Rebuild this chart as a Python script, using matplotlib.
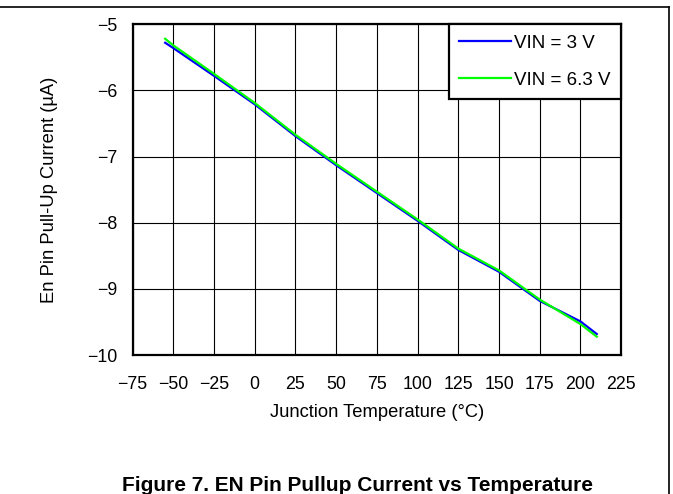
import matplotlib
matplotlib.use('Agg')
import matplotlib.pyplot as plt
from matplotlib.lines import Line2D

plt.rcParams['font.family'] = ['Liberation Sans', 'DejaVu Sans']

# Junction temperature (°C) and EN pin pull-up current (µA)
temps = [-55, -50, -25, 0, 25, 50, 75, 100, 125, 150, 175, 200, 210]
vin_3v = [-5.28, -5.36, -5.78, -6.21, -6.69, -7.13, -7.55, -7.97, -8.41, -8.74, -9.18, -9.49, -9.68]
vin_6v3 = [-5.22, -5.32, -5.75, -6.19, -6.67, -7.11, -7.53, -7.95, -8.39, -8.72, -9.16, -9.53, -9.72]

x_ticks = list(range(-75, 226, 25))
y_ticks = [-10, -9, -8, -7, -6, -5]

fig = plt.figure(figsize=(6.73, 4.94), dpi=100)
ax = fig.add_axes([0.197, 0.281, 0.726, 0.670])

ax.plot(temps, vin_3v, color='#0000ff', lw=1.6, label='VIN = 3 V')
ax.plot(temps, vin_6v3, color='#00ff00', lw=1.6, label='VIN = 6.3 V')

ax.set_xlim(-75, 225)
ax.set_ylim(-10, -5)
ax.set_xticks(x_ticks)
ax.set_yticks(y_ticks)
ax.set_xticklabels([str(t).replace('-', '\u2212') for t in x_ticks])
ax.set_yticklabels([str(t).replace('-', '\u2212') for t in y_ticks])
ax.tick_params(length=0, labelsize=12.8)
ax.tick_params(axis='x', pad=15)
ax.tick_params(axis='y', pad=11)
ax.grid(True, color='black', lw=0.8)
ax.set_axisbelow(True)
for s in ax.spines.values():
    s.set_linewidth(1.6)

ax.set_xlabel('Junction Temperature (°C)', fontsize=13.2, labelpad=8)
ax.set_ylabel('En Pin Pull-Up Current (µA)', fontsize=13.2, labelpad=21)

leg = ax.legend(loc='upper right', bbox_to_anchor=(1.0, 1.0), borderaxespad=0,
                fontsize=13.5, fancybox=False, framealpha=1, edgecolor='black',
                handlelength=2.75, handletextpad=0.2, labelspacing=1.06, borderpad=0.55)
leg.get_frame().set_linewidth(1.6)

fig.text(122 / 673, 1 - 491 / 494, 'Figure 7. EN Pin Pullup Current vs Temperature',
         ha='left', va='baseline', fontsize=15, fontweight='bold')

# outer frame lines (top and right)
fig.add_artist(Line2D([0, 0.994], [0.985, 0.985], color='black', lw=1.2, transform=fig.transFigure))
fig.add_artist(Line2D([0.994, 0.994], [0, 0.985], color='black', lw=1.2, transform=fig.transFigure))

fig.savefig('out.png', dpi=100)
